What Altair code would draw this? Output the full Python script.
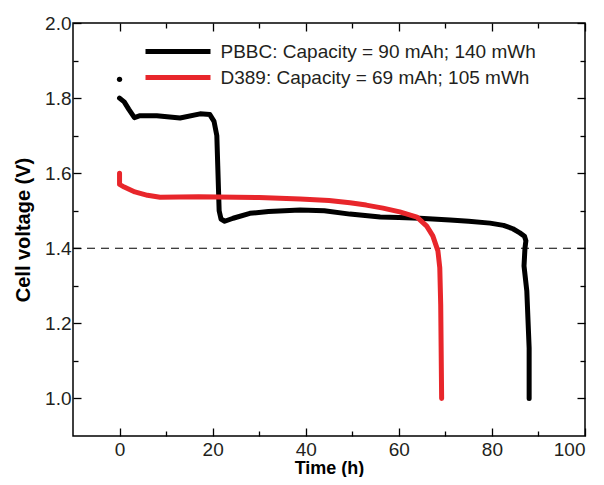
import altair as alt
import pandas as pd

# ---- data ----
pbbc_t = [0, 1, 2, 3.2, 4.4, 8, 13, 17.3, 19.4, 20.3, 20.9, 21.1, 21.4, 21.8, 22.6, 24.4,
          28, 32, 38.8, 44, 49.5, 56, 60, 64.5, 71, 75, 79.6, 82.5, 84.5, 86.0, 87.0, 87.3,
          87.1, 86.9, 87.5, 88.0, 88.0]
pbbc_v = [1.80, 1.79, 1.77, 1.748, 1.753, 1.753, 1.747, 1.758, 1.756, 1.738, 1.70, 1.62,
          1.50, 1.478, 1.472, 1.48, 1.493, 1.498, 1.502, 1.50, 1.491, 1.483, 1.482, 1.480,
          1.475, 1.472, 1.467, 1.461, 1.452, 1.441, 1.432, 1.42, 1.40, 1.353, 1.286, 1.134,
          1.0]
d389_t = [0, 0, 1, 3.3, 6, 8.7, 17, 30, 38.8, 45, 49.5, 53, 56.6, 60.2, 63.9, 66, 67.3,
          68.4, 68.8, 69.0, 69.2]
d389_v = [1.60, 1.57, 1.563, 1.55, 1.541, 1.536, 1.537, 1.535, 1.531, 1.527, 1.521, 1.515,
          1.507, 1.497, 1.483, 1.459, 1.433, 1.393, 1.348, 1.25, 1.0]
dot_t = [0]
dot_v = [1.85]
cutoff_v = [1.4]

series = ["PBBC: Capacity = 90 mAh; 140 mWh", "D389: Capacity = 69 mAh; 105 mWh"]
colors = ["#000000", "#e8262b"]

x_ticks = [0, 10, 20, 30, 40, 50, 60, 70, 80, 90, 100]
y_ticks = [1.0, 1.1, 1.2, 1.3, 1.4, 1.5, 1.6, 1.7, 1.8, 1.9, 2.0]
x_domain = [-10, 100]
y_domain = [0.9, 2.0]

rows = []
for name, ts, vs in [(series[0], pbbc_t, pbbc_v), (series[1], d389_t, d389_v)]:
    for i, (t, v) in enumerate(zip(ts, vs)):
        rows.append({"t": t, "v": v, "series": name, "i": i})
df = pd.DataFrame(rows)
dot_df = pd.DataFrame({"t": dot_t, "v": dot_v})
cut_df = pd.DataFrame({"v": cutoff_v})

FONT = "Liberation Sans"
xs = alt.Scale(domain=x_domain, nice=False, zero=False)
ys = alt.Scale(domain=y_domain, nice=False, zero=False)

major_x = "datum.value % 20 === 0"
major_y = "round(datum.value * 10) % 2 === 0"


def x_axis(orient, labels):
    kw = dict(orient=orient, values=x_ticks, domain=False, grid=False,
              tickSize={"condition": {"test": major_x, "value": -8}, "value": -5},
              tickColor="black", tickWidth=1.3, labels=labels)
    if labels:
        kw.update(labelExpr=f"{major_x} ? datum.label : ''", labelFont=FONT,
                  labelFontSize=19, labelColor="#231f20", labelPadding=12,
                  title="Time (h)", titleFont=FONT, titleFontSize=18,
                  titleFontWeight="bold", titleColor="black", titlePadding=0)
    else:
        kw.update(title=None)
    return alt.Axis(**kw)


def y_axis(orient, labels):
    kw = dict(orient=orient, values=y_ticks, domain=False, grid=False,
              tickSize={"condition": {"test": major_y, "value": -8}, "value": -5},
              tickColor="black", tickWidth=1.3, labels=labels)
    if labels:
        kw.update(labelExpr=f"{major_y} ? format(datum.value, '.1f') : ''",
                  labelFont=FONT, labelFontSize=19, labelColor="#231f20",
                  labelPadding=10, title="Cell voltage (V)", titleFont=FONT,
                  titleFontSize=20, titleFontWeight="bold", titleColor="black",
                  titlePadding=11)
    else:
        kw.update(title=None)
    return alt.Axis(**kw)


xa = x_axis("bottom", True)
ya = y_axis("left", True)

lines = alt.Chart(df).mark_line(strokeWidth=5, strokeCap="round", strokeJoin="round").encode(
    x=alt.X("t:Q", scale=xs, axis=xa),
    y=alt.Y("v:Q", scale=ys, axis=ya),
    color=alt.Color("series:N", scale=alt.Scale(domain=series, range=colors),
                    legend=alt.Legend(title=None, orient="none", legendX=89.5, legendY=13,
                                      symbolType="M-2.5,0H2.5", symbolSize=676,
                                      symbolStrokeWidth=5, labelFont=FONT,
                                      labelFontSize=19, labelColor="#231f20",
                                      labelOffset=27, labelLimit=600,
                                      padding=0, rowPadding=0)),
    order="i:Q",
)

dot = alt.Chart(dot_df).mark_circle(size=28, color="black", opacity=1).encode(
    x=alt.X("t:Q", scale=xs, axis=xa),
    y=alt.Y("v:Q", scale=ys, axis=ya),
)

cut = alt.Chart(cut_df).mark_rule(color="black", strokeWidth=1.2, strokeDash=[8, 6]).encode(
    y=alt.Y("v:Q", scale=ys, axis=ya),
)

frame = alt.Chart(df).mark_point(opacity=0).encode(
    x=alt.X("t:Q", scale=xs, axis=x_axis("top", False)),
    y=alt.Y("v:Q", scale=ys, axis=y_axis("right", False)),
)

chart = alt.layer(alt.layer(cut, lines, dot), frame).resolve_scale(
    x="independent", y="independent"
).properties(
    width=512, height=413,
    padding={"left": 5, "top": 6, "right": 5, "bottom": 0},
).configure_view(stroke="black", strokeWidth=1.5)

chart.save("out.html", embed_options={"renderer": "svg", "actions": False})
